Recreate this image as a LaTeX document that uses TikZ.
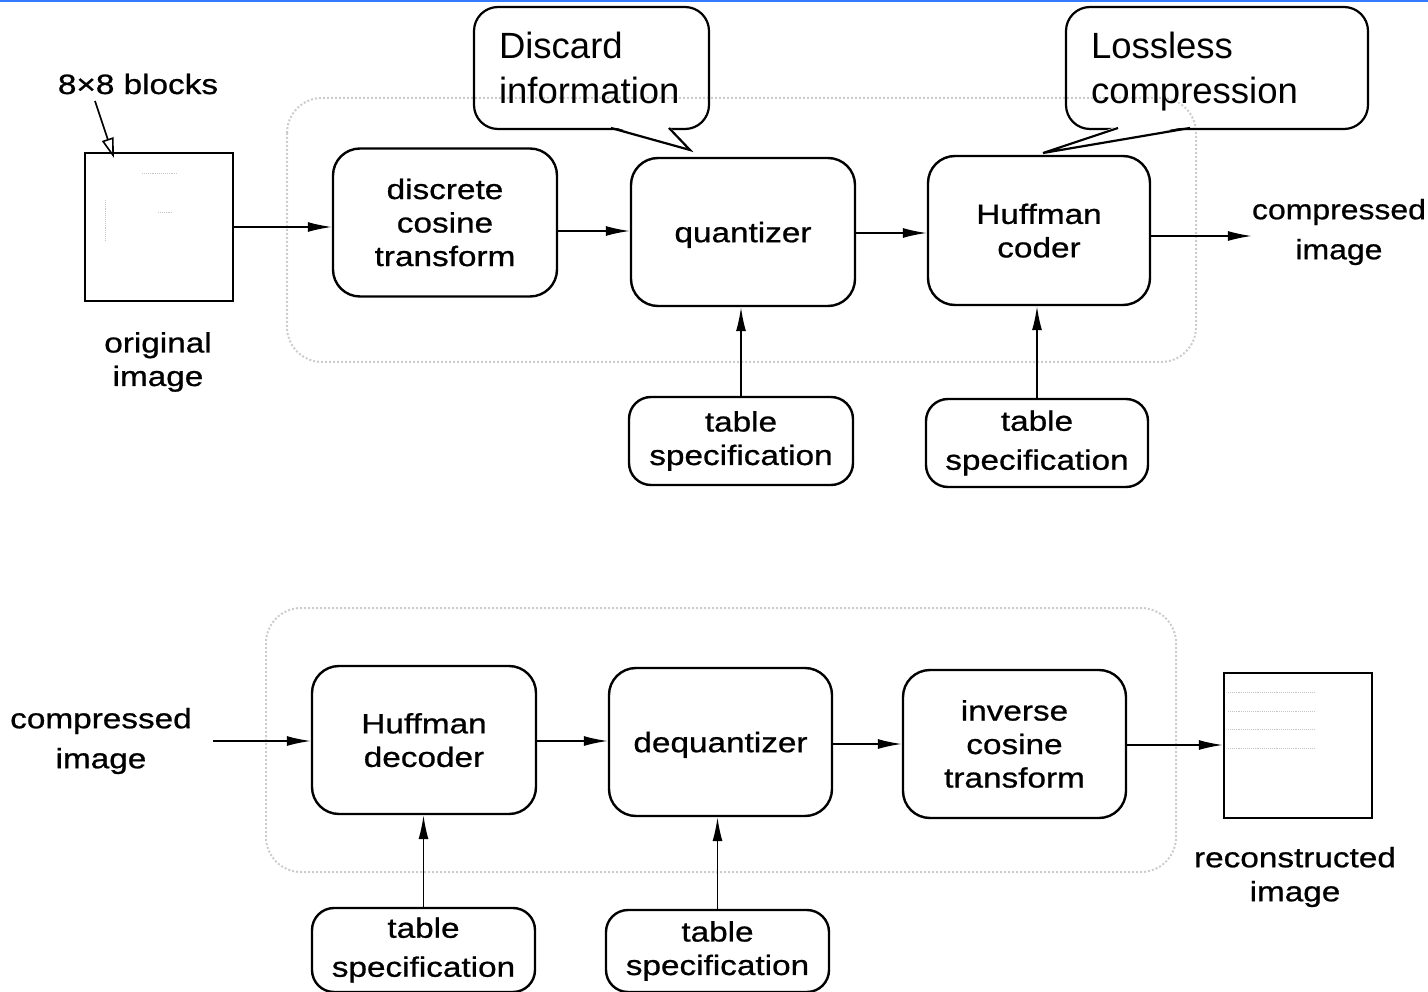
\documentclass[tikz,border=0pt]{standalone}
\usepackage{fontspec}
\setmainfont{Liberation Sans}
\newfontfamily\blockfont[FakeStretch=1.19,FakeBold=0.8]{Liberation Sans}
\newfontfamily\edgefont[FakeStretch=1.14,FakeBold=0.8]{Liberation Sans}
\usetikzlibrary{arrows.meta}
\newcommand{\nodepth}[1]{\raisebox{0pt}[\height][0pt]{#1}}
\begin{document}
\begin{tikzpicture}[x=1pt,y=-1pt,
  block/.style={draw, line width=2.4pt, rounded corners=27pt, minimum width=224pt,
    minimum height=148pt, align=center, inner sep=0pt,
    font=\blockfont\fontsize{28}{33.5}\selectfont},
  spec/.style={block, minimum height=86pt, rounded corners=22pt},
  picbox/.style={draw, line width=2.4pt, minimum width=148pt, minimum height=148pt, inner sep=0pt},
  caption/.style={align=center, inner sep=0pt, font=\blockfont\fontsize{28}{33.5}\selectfont},
  flow/.style={line width=1.6pt, -{Latex[length=24pt,width=10pt]}},
  note/.style={draw, line width=2.2pt, rounded corners=24pt, align=left, inner xsep=25pt,
    inner ysep=0pt, minimum height=122pt, font=\fontsize{36.5}{45}\selectfont},
  group/.style={draw=gray!40, dotted, line width=2pt, rounded corners=35pt},
  scanline/.style={draw=gray!45, densely dotted, line width=0.9pt}
]
\useasboundingbox (0,0) rectangle (1428,992);
\fill[blue!65!cyan!80!white] (0,0) rectangle (1428,2.5);

% stage groupings
\draw[group] (287,98) rectangle (1196,362);
\draw[group] (266,608) rectangle (1176,872);

% ---------- encoder ----------
\node[picbox] (orig) at (159,227) {};
\draw[scanline] (142,173) -- (177,173);
\draw[scanline] (158,212) -- (172,212);
\draw[scanline] (105,200) -- (105,240);
\node[caption] (origlbl) at (158,362) {original\\image};
\node[caption] (blocks) at (138,84) {8×8 blocks};
\coordinate (blocktip) at (114,158);
\draw[line width=1.6pt, -{Triangle[open, length=20pt, width=12pt, line width=1.6pt]}]
  (95,101) -- (blocktip);

\node[block] (dct) at (445,222.5) {discrete\\cosine\\transform};
\node[block] (quant) at (743,232) {\nodepth{quantizer}};
\node[block, minimum width=222pt, minimum height=149pt] (coder) at (1039,230.5) {Huffman\\\nodepth{coder}};
\node[caption, font=\edgefont\fontsize{28}{40}\selectfont] (cout) at (1339,232) {compressed\\image};

\node[spec, minimum height=88pt] (qtab) at (741,441) {table\\specification};
\node[spec, minimum width=222pt, minimum height=88pt,
  font=\blockfont\fontsize{28}{39}\selectfont] (htab) at (1037,443) {table\\specification};

\draw[flow] (orig.east) -- (orig.east -| dct.west);
\draw[flow] (dct.east |- 0,231) -- (quant.west |- 0,231);
\draw[flow] (quant.east |- 0,233) -- (coder.west |- 0,233);
\draw[flow] (coder.east |- 0,236) -- (cout.west |- 0,236);
\draw[flow] (qtab.north) -- (qtab.north |- quant.south);
\draw[flow] (htab.north) -- (htab.north |- coder.south);

% annotations
\node[note, minimum width=235pt, text width=185pt] (discard) at (591.5,68) {Discard\\information};
\coordinate (discardtip) at (690,150);
\fill[white] (611,126) -- (discardtip) -- (669,126) -- cycle;
\draw[line width=2.2pt, line join=miter] (611,128) -- (discardtip) -- (669,128);

\node[note, minimum width=302pt, text width=252pt] (lossless) at (1217,68)
  {Lossless\\\nodepth{compression}};
\coordinate (losslesstip) at (1043,153);
\fill[white] (1118,126) -- (losslesstip) -- (1190,126) -- cycle;
\draw[line width=2.2pt, line join=miter] (1118,128) -- (losslesstip) -- (1190,128);

% ---------- decoder ----------
\node[caption, font=\blockfont\fontsize{28}{40}\selectfont] (cin) at (101,741) {compressed\\image};
\node[block] (dec) at (424,740) {Huffman\\\nodepth{decoder}};
\node[block, minimum width=223pt] (deq) at (720.5,742) {\nodepth{dequantizer}};
\node[block, minimum width=223pt] (idct) at (1014.5,744) {inverse\\cosine\\transform};
\node[picbox, minimum height=145pt] (recon) at (1298,745.5) {};
\foreach \yy in {692,711,729,748} \draw[scanline] (1228,\yy) -- (1315,\yy);
\node[caption, font=\blockfont\fontsize{28}{34}\selectfont] (reconlbl) at (1295,877) {reconstructed\\image};

\node[spec, minimum width=223pt, minimum height=84pt,
  font=\blockfont\fontsize{28}{39}\selectfont] (dtab) at (423.5,950) {table\\specification};
\node[spec, minimum width=223pt, minimum height=82pt] (qtab2) at (717.5,951) {table\\specification};

\draw[flow] (213,741) -- (dec.west |- 0,741);
\draw[flow] (dec.east |- 0,741) -- (deq.west |- 0,741);
\draw[flow] (deq.east |- 0,744) -- (idct.west |- 0,744);
\draw[flow] (idct.east |- 0,745) -- (recon.west |- 0,745);
\draw[flow] (dtab.north) -- (dtab.north |- dec.south);
\draw[flow] (qtab2.north) -- (qtab2.north |- deq.south);
\end{tikzpicture}
\end{document}
